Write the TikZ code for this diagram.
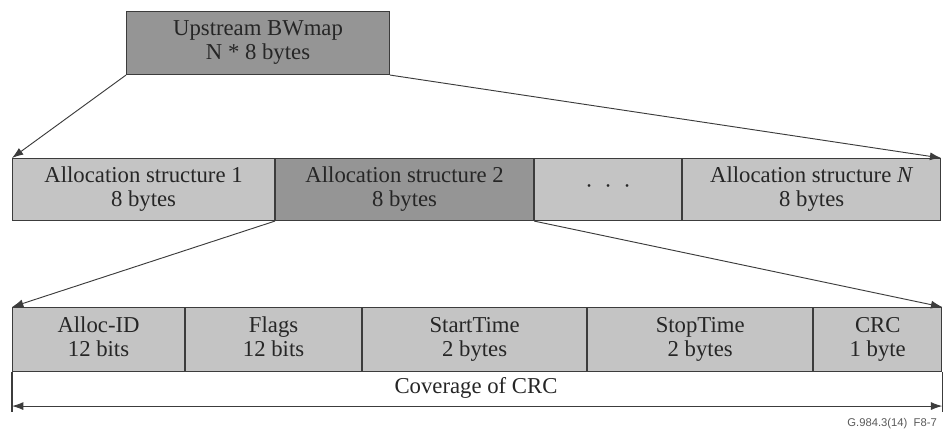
\documentclass[tikz,border=0pt]{standalone}
\usepackage{fontspec}
\setmainfont{Liberation Serif}
\newfontfamily\figsans{Liberation Sans}
\usepackage{tikz}
\usetikzlibrary{arrows.meta,positioning,calc}

\definecolor{linegray}{HTML}{3C3C3C}
\definecolor{darkcell}{HTML}{959595}
\definecolor{lightcell}{HTML}{C4C4C4}
\newcommand{\twolines}[2]{\strut#1\\\strut#2}

\begin{document}
\begin{tikzpicture}[x=0.3mm,y=-0.3mm,
  cell/.style={draw=linegray,line width=0.9pt,inner sep=0pt,align=center,text=black!85,
    font=\fontsize{19.4}{20.5}\selectfont},
  lcell/.style={cell,fill=lightcell},
  dcell/.style={cell,fill=darkcell},
  zoomarrow/.style={draw=linegray,line width=0.8pt,-{Latex[length=3.4mm,width=2.4mm]}}]
  \useasboundingbox (0,0) rectangle (943,432); % 参照画像と同じ余白を確保する枠
  \node[dcell,anchor=north west,minimum width=78.9mm,minimum height=18.9mm] (bwmap) at (126,11)
    {\twolines{Upstream BWmap}{N * 8 bytes}}; % 上段の BWmap の箱
  \node[lcell,anchor=north west,minimum width=78.6mm,minimum height=18.6mm] (alloc1) at (12,158)
    {\twolines{Allocation structure 1}{8 bytes}}; % 中段：1 番目の割当構造
  \node[dcell,right=0pt of alloc1,minimum width=77.4mm,minimum height=18.6mm] (alloc2)
    {\twolines{Allocation structure 2}{8 bytes}}; % 中段：拡大される 2 番目の割当構造
  \node[lcell,right=0pt of alloc2,minimum width=44.1mm,minimum height=18.6mm] (dots)
    {\textperiodcentered\hspace{0.5em}\textperiodcentered\hspace{0.5em}\textperiodcentered}; % 中段：省略を表す点
  \node[lcell,right=0pt of dots,minimum width=77.4mm,minimum height=18.6mm] (allocN)
    {\twolines{Allocation structure \textit{N}}{8 bytes}}; % 中段：N 番目の割当構造
  \node[lcell,anchor=north west,minimum width=51.6mm,minimum height=19.2mm] (allocid) at (12,307)
    {\twolines{Alloc-ID}{12 bits}}; % 下段：Alloc-ID フィールド
  \node[lcell,right=0pt of allocid,minimum width=52.8mm,minimum height=19.2mm] (flags)
    {\twolines{Flags}{12 bits}}; % 下段：Flags フィールド
  \node[lcell,right=0pt of flags,minimum width=67.2mm,minimum height=19.2mm] (start)
    {\twolines{StartTime}{2 bytes}}; % 下段：StartTime フィールド
  \node[lcell,right=0pt of start,minimum width=67.5mm,minimum height=19.2mm] (stop)
    {\twolines{StopTime}{2 bytes}}; % 下段：StopTime フィールド
  \node[lcell,right=0pt of stop,minimum width=38.4mm,minimum height=19.2mm] (crc)
    {\twolines{CRC}{1 byte}}; % 下段：CRC フィールド
  \draw[zoomarrow] (bwmap.south west) -- (alloc1.north west); % BWmap から中段左端への矢印
  \draw[zoomarrow] (bwmap.south east) -- (allocN.north east); % BWmap から中段右端への矢印
  \draw[zoomarrow] (alloc2.south west) -- (allocid.north west); % 割当構造 2 から下段左端への矢印
  \draw[zoomarrow] (alloc2.south east) -- (crc.north east); % 割当構造 2 から下段右端への矢印
  \coordinate (covL) at ($(allocid.south west)+(0,34)$); % CRC 範囲の左端
  \coordinate (covR) at ($(crc.south east)+(0,34)$); % CRC 範囲の右端
  \draw[draw=linegray,line width=0.9pt] (allocid.south west) -- ($(covL)+(0,6)$); % 左側の延長線
  \draw[draw=linegray,line width=0.9pt] (crc.south east) -- ($(covR)+(0,6)$); % 右側の延長線
  \draw[draw=linegray,line width=0.8pt,{Latex[length=3.4mm,width=2.4mm]}-{Latex[length=3.4mm,width=2.4mm]}]
    (covL) -- (covR); % CRC の対象範囲を示す両矢印
  \node[text=black!85,font=\fontsize{19.4}{20.5}\selectfont] (covtext) at (476,388) {Coverage of CRC}; % 範囲の説明
  \node[anchor=east,inner sep=0pt,text=black!65,font=\figsans\fontsize{9.6}{10}\selectfont] (figid)
    at (937,424) {G.984.3(14)\ \ F8-7}; % 図番号
\end{tikzpicture}
\end{document}
